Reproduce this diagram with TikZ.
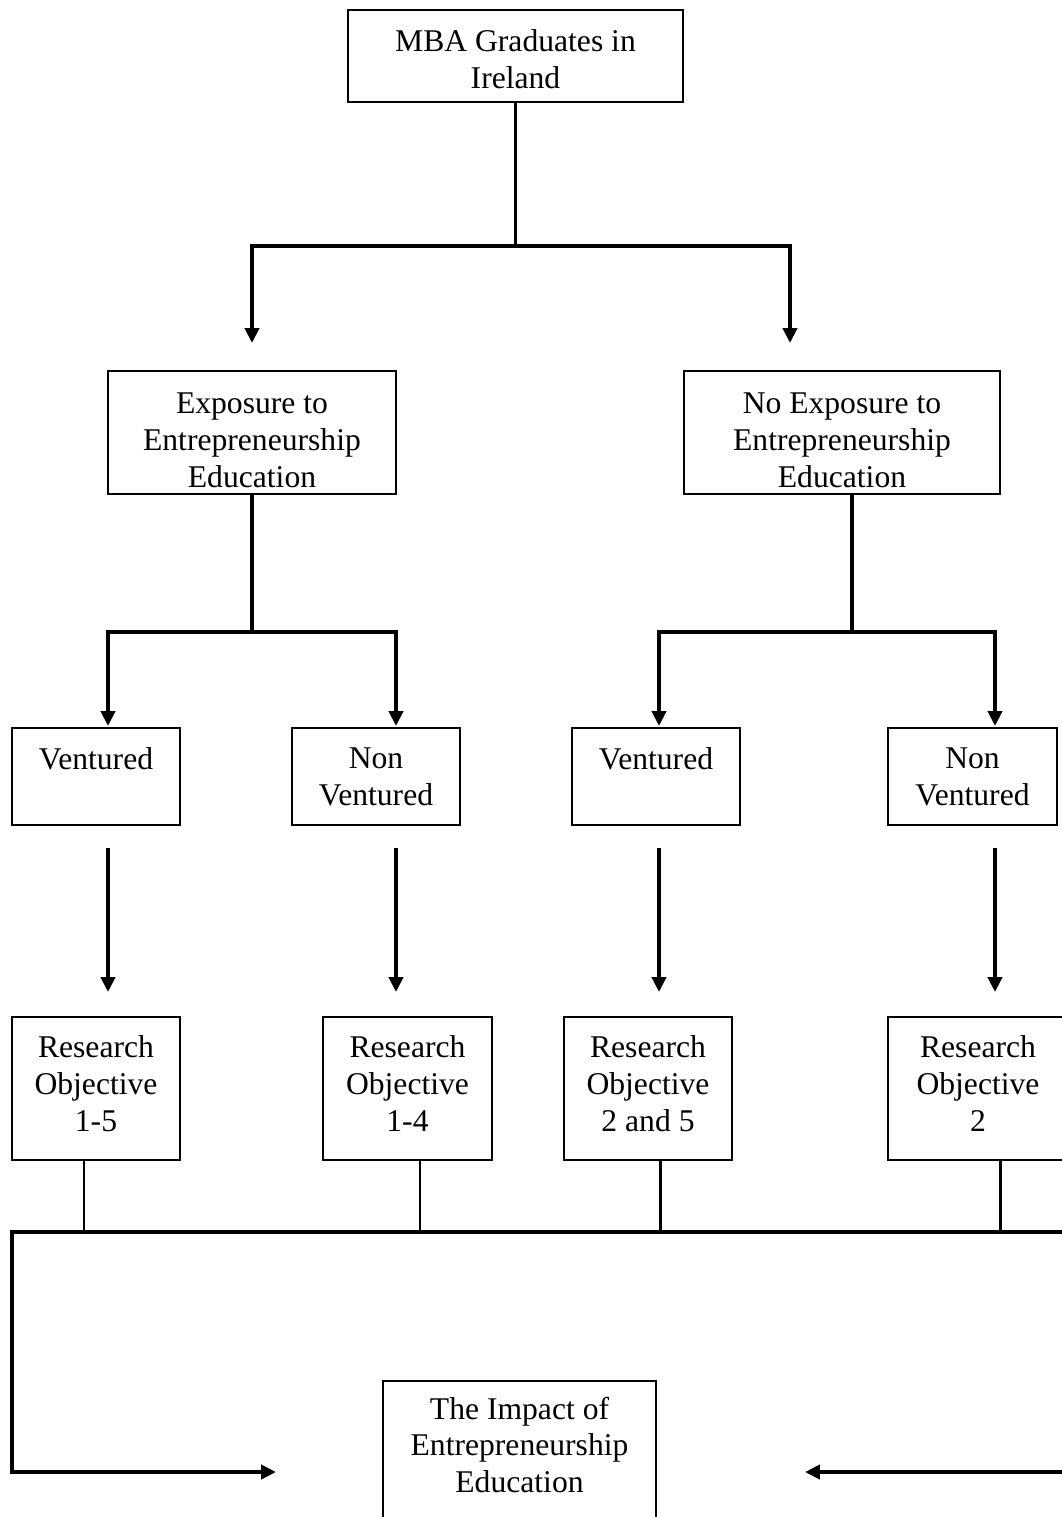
\documentclass[tikz,border=0pt]{standalone}
\usepackage{fontspec}
\setmainfont{Liberation Serif}
\usetikzlibrary{positioning}
\usetikzlibrary{arrows.meta}
\tikzset {
  % text boxes
  main/.style = {draw, rectangle, line width=1.1pt, align=center, inner sep=0pt,
    font=\fontsize{18}{21}\selectfont},
  % box with text at the top only
  oneline/.style = {text depth=21pt},
  % connectors
  link/.style = {line width=2.2pt},
  thinlink/.style = {line width=1.7pt},
  arr/.style = {link, -{Triangle[length=8.5pt, width=8pt]}},
}

\begin{document}
\begin{tikzpicture}[x=0.02cm, y=-0.02cm]
        \useasboundingbox (0,0) rectangle (1061,1517);

        \node[main, text height=36.7pt, minimum width=6.7cm, minimum height=1.84cm] (1) at (515.5,56) {MBA Graduates in\\Ireland};
        \node[main, text height=62.4pt, minimum width=5.76cm, minimum height=2.46cm] (2) at (252,432.5) {Exposure to\\Entrepreneurship\\Education};
        \node[main, text height=62.4pt, minimum width=6.32cm, minimum height=2.46cm] (3) at (842,432.5) {No Exposure to\\Entrepreneurship\\Education};

        \node[main, oneline, minimum width=3.36cm, minimum height=1.94cm] (4) at (96,776.5) {Ventured};
        \node[main, minimum width=3.36cm, minimum height=1.94cm] (5) at (376,776.5) {Non\\Ventured};
        \node[main, oneline, minimum width=3.36cm, minimum height=1.94cm] (6) at (656,776.5) {Ventured};
        \node[main, minimum width=3.38cm, minimum height=1.94cm] (7) at (972.5,776.5) {Non\\Ventured};

        \node[main, text depth=5.7pt, minimum width=3.36cm, minimum height=2.86cm] (8) at (96,1088.5) {Research\\Objective\\1-5};
        \node[main, text depth=5.7pt, minimum width=3.38cm, minimum height=2.86cm] (9) at (407.5,1088.5) {Research\\Objective\\1-4};
        \node[main, text depth=5.7pt, minimum width=3.36cm, minimum height=2.86cm] (10) at (648,1088.5) {Research\\Objective\\2 and 5};
        \node[main, text depth=5.7pt, minimum width=3.6cm, minimum height=2.86cm] (11) at (978,1088.5) {Research\\Objective\\2};

        \node[main, anchor=north, minimum width=5.46cm, inner ysep=9pt, text depth=30pt] (12) at (519.5,1380) {The Impact of\\Entrepreneurship\\Education};

        % first split
        \coordinate (s1) at (516,246);
        \coordinate (a1) at (252,343);
        \coordinate (a2) at (790,343);
        \draw[link] (1) -- (1 |- s1);
        \draw[arr] (1 |- s1) -| (a1);
        \draw[arr] (1 |- s1) -| (a2);

        % second split
        \coordinate (s2) at (252,632);
        \coordinate (s3) at (852,632);
        \coordinate (b1) at (108,726);
        \coordinate (b2) at (396,726);
        \coordinate (b3) at (659,726);
        \coordinate (b4) at (995,726);
        \draw[link] (2) -- (2 |- s2);
        \draw[arr] (2 |- s2) -| (b1);
        \draw[arr] (2 |- s2) -| (b2);
        \draw[link] (3.south -| s3) -- (s3);
        \draw[arr] (s3) -| (b3);
        \draw[arr] (s3) -| (b4);

        \foreach \x [count=\i] in {108,396,659,995} {
          \coordinate (c\i) at (\x,848);
          \coordinate (d\i) at (\x,992);
          \draw[arr] (c\i) -- (d\i);
        }

        % joining line
        \coordinate (s4) at (12,1232);
        \coordinate (s5) at (1080,1232);
        \foreach \n/\x [count=\i] in {8/84,9/420,10/660,11/1000} {
          \coordinate (e\i) at (\x,1232);
          \draw[thinlink] (e\i |- \n.south) -- (e\i);
        }
        \coordinate (t1) at (276,1472);
        \coordinate (t2) at (805,1472);
        \draw[arr] (s5) -- (s4) |- (t1);
        \draw[arr] (s5 |- t2) -- (t2);
        % \draw (12) -- (t2);
\end{tikzpicture}
\end{document}
